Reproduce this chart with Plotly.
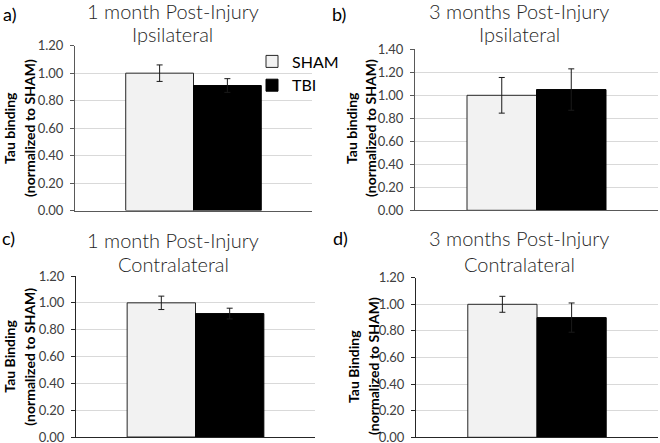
import plotly.graph_objects as go

# ---- data ----
groups = ["SHAM", "TBI"]
panel_letters = ["a)", "b)", "c)", "d)"]
title_line1 = ["1 month Post-Injury", "3 months Post-Injury", "1 month Post-Injury", "3 months Post-Injury"]
title_line2 = ["Ipsilateral", "Ipsilateral", "Contralateral", "Contralateral"]
ytitle_line1 = ["Tau binding", "Tau binding", "Tau Binding", "Tau Binding"]
ytitle_line2 = ["(normalized to SHAM)"] * 4
sham_values = [1.00, 1.00, 1.00, 1.00]
sham_errors = [0.06, 0.155, 0.05, 0.06]
tbi_values = [0.91, 1.05, 0.92, 0.90]
tbi_errors = [0.05, 0.18, 0.04, 0.11]
y_max = [1.2, 1.4, 1.2, 1.2]

W, H = 660, 443
# plot-area boxes in pixels (left, right, top, bottom)
boxes = [(75, 312, 45.7, 210.5), (415, 658, 49.3, 210.3),
         (76, 315, 276, 437), (416, 658, 277.7, 437.3)]
axis_colors = ["#595959", "#595959", "#262626", "#262626"]
# text positions (pixels)
title_x = [172.5, 519, 173, 519]
title_y1 = [11, 11, 240, 238]
title_y2 = [34, 34, 264, 264]
ytitle_x1 = [10, 352, 10, 353]
ytitle_x2 = [30, 371, 30, 373]
ytitle_yc = [128, 128, 356.7, 366]
letter_xy = [(9, 14), (339, 14), (8, 238), (340, 238)]

fills = {"SHAM": "#f2f2f2", "TBI": "#000000"}
lines = {"SHAM": "#262626", "TBI": "#000000"}

def px(x):
    return x / W

def py(y):
    return 1 - y / H

fig = go.Figure()
annotations = []
for i in range(4):
    sfx = "" if i == 0 else str(i + 1)
    cat = [title_line1[i] + " " + title_line2[i]]
    for g, vals, errs in (("SHAM", sham_values, sham_errors), ("TBI", tbi_values, tbi_errors)):
        fig.add_trace(go.Bar(
            x=cat, y=[vals[i]], name=g, legendgroup=g, showlegend=(i == 0),
            marker=dict(color=fills[g], line=dict(color=lines[g], width=1)),
            error_y=dict(type="data", array=[errs[i]], color="#1a1a1a", thickness=1, width=3),
            xaxis="x" + sfx, yaxis="y" + sfx, hoverinfo="skip",
        ))
    l, r, t, b = boxes[i]
    fig.layout["xaxis" + sfx] = dict(
        domain=[px(l), px(r)], anchor="y" + sfx, type="category", automargin=False,
        showticklabels=False, showgrid=False, zeroline=False, ticks="",
        showline=True, linecolor=axis_colors[i], linewidth=1, fixedrange=True,
    )
    fig.layout["yaxis" + sfx] = dict(
        domain=[py(b), py(t)], anchor="x" + sfx, range=[0, y_max[i]], dtick=0.2,
        automargin=False, ticklabeloverflow="allow", ticklabelstandoff=4,
        tickformat=".2f", showgrid=True, gridcolor="#d9d9d9", gridwidth=1,
        zeroline=False, showline=True, linecolor=axis_colors[i], linewidth=1,
        ticks="outside", ticklen=4, tickcolor=axis_colors[i],
        tickfont=dict(family="Lato", size=13, color="#404040"), fixedrange=True,
    )
    for txt, yy in ((title_line1[i], title_y1[i]), (title_line2[i], title_y2[i])):
        annotations.append(dict(
            text=txt, x=px(title_x[i]), y=py(yy), xref="paper", yref="paper",
            xanchor="center", yanchor="middle", showarrow=False,
            font=dict(family="Lato", size=20, color="#262626", weight=300),
        ))
    for txt, xx in ((ytitle_line1[i], ytitle_x1[i]), (ytitle_line2[i], ytitle_x2[i])):
        annotations.append(dict(
            text="<b>" + txt + "</b>", x=px(xx), y=py(ytitle_yc[i]), xref="paper", yref="paper",
            xanchor="center", yanchor="middle", showarrow=False, textangle=-90,
            font=dict(family="Lato", size=14, color="#000000"),
        ))
    annotations.append(dict(
        text=panel_letters[i], x=px(letter_xy[i][0]), y=py(letter_xy[i][1]),
        xref="paper", yref="paper", xanchor="center", yanchor="middle", showarrow=False,
        font=dict(family="Lato", size=18, color="#000000"),
    ))

fig.update_layout(
    width=W, height=H, margin=dict(l=0, r=0, t=0, b=0, autoexpand=False),
    paper_bgcolor="white", plot_bgcolor="white",
    barmode="group", bargap=0.428, bargroupgap=0,
    showlegend=True, hovermode=False,
    legend=dict(x=px(252), y=py(44.5), xanchor="left", yanchor="top",
                bgcolor="rgba(0,0,0,0)", traceorder="normal",
                font=dict(family="Lato", size=16, color="#000000"),
                itemwidth=30, tracegroupgap=0),
    annotations=annotations,
)

fig.write_html(
    "out.html",
    config={"displayModeBar": False, "staticPlot": True},
    post_script=("document.documentElement.style.margin='0px';"
                 "document.body.style.margin='0px';"
                 "document.body.style.overflow='hidden';"
                 "document.documentElement.style.overflow='hidden';"
                 "window.scrollTo(0,0);"),
)
